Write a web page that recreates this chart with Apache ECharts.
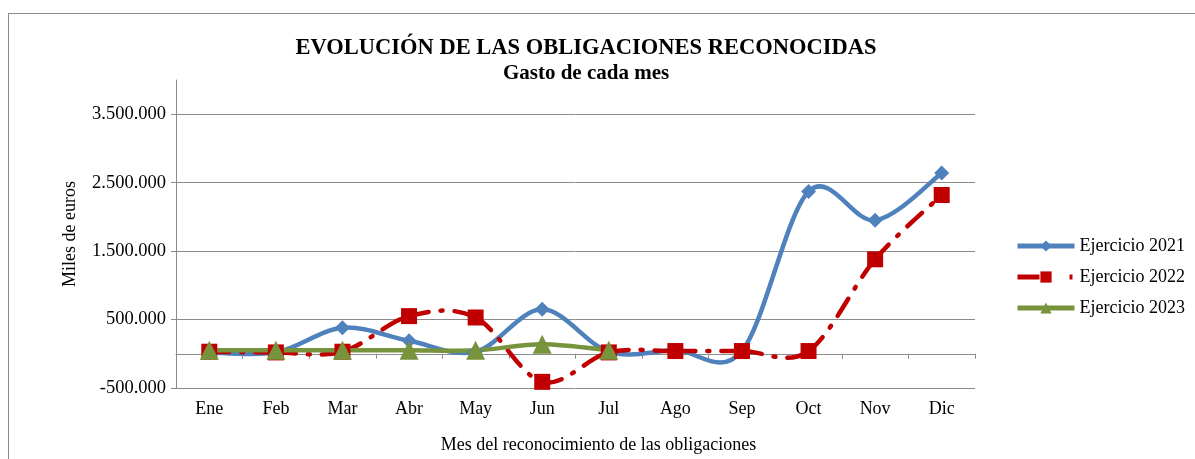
<!DOCTYPE html>
<html>
<head>
    <meta charset="utf-8">
    <script src="https://cdn.jsdelivr.net/npm/echarts@6/dist/echarts.min.js"></script>
    <style>
        body { margin: 0; background: #fff; }
        #frame { position: absolute; left: 8px; top: 13px; width: 1300px; height: 600px; border: 1px solid #8c8c8c; }
        #main { position: absolute; left: 0; top: 0; width: 1195px; height: 459px; }
    </style>
</head>
<body>
<div id="frame"></div>
<div id="main"></div>
<script type="text/javascript">
    // datos (miles de euros)
    var meses = ['Ene', 'Feb', 'Mar', 'Abr', 'May', 'Jun', 'Jul', 'Ago', 'Sep', 'Oct', 'Nov', 'Dic'];
    var ejercicio2021 = [20000, 20000, 380000, 190000, 30000, 650000, 30000, 50000, 40000, 2370000, 1950000, 2640000];
    var ejercicio2022 = [30000, 20000, 30000, 550000, 530000, -410000, 20000, 40000, 40000, 40000, 1380000, 2320000];
    var ejercicio2023 = [50000, 50000, 50000, 50000, 50000, 140000, 50000];
    var ticksY = [-500000, 500000, 1500000, 2500000, 3500000];

    var serif = 'Liberation Serif';
    var azul = '#4f81bd', rojo = '#c00000', verde = '#77933c';
    var guion = [20, 12, 2, 12];

    function miles(v) {
        var s = Math.abs(v).toString().replace(/\B(?=(\d{3})+(?!\d))/g, '.');
        return (v < 0 ? '-' : '') + s;
    }

    // curva suavizada tipo Excel (Catmull-Rom), dibujada una sola vez
    function curva(valores, color, tipo) {
        return function (params, api) {
            if (params.dataIndex !== 0) return null;
            var p = valores.map(function (v, i) { return api.coord([i, v]); });
            var tramos = [];
            for (var i = 0; i < p.length - 1; i++) {
                var a = p[i - 1] || p[i], b = p[i], c = p[i + 1], d = p[i + 2] || p[i + 1];
                tramos.push({
                    type: 'bezierCurve',
                    shape: {
                        x1: b[0], y1: b[1], x2: c[0], y2: c[1],
                        cpx1: b[0] + (c[0] - a[0]) / 6, cpy1: b[1] + (c[1] - a[1]) / 6,
                        cpx2: c[0] - (d[0] - b[0]) / 6, cpy2: c[1] - (d[1] - b[1]) / 6
                    },
                    style: { stroke: color, lineWidth: 4.5, fill: null, lineDash: tipo, lineCap: 'round' }
                });
            }
            return { type: 'group', children: tramos };
        };
    }

    function linea(nombre, valores, color, simbolo, tam, tipo) {
        return {
            name: nombre,
            type: 'line',
            z: 3,
            data: valores,
            symbol: simbolo,
            symbolSize: tam,
            itemStyle: { color: color },
            lineStyle: { color: color, width: 4.5, type: tipo || 'solid', opacity: 0 }
        };
    }

    function trazo(nombre, valores, color, tipo) {
        return {
            name: nombre,
            type: 'custom',
            z: 2,
            clip: false,
            data: valores,
            renderItem: curva(valores, color, tipo || null)
        };
    }

    var myChart = echarts.init(document.getElementById('main'));

    var option = {
        animation: false,
        textStyle: { fontFamily: serif, color: '#000' },
        title: {
            text: 'EVOLUCIÓN DE LAS OBLIGACIONES RECONOCIDAS',
            subtext: 'Gasto de cada mes',
            left: 581,
            top: 32,
            textAlign: 'center',
            itemGap: 3,
            textStyle: { fontFamily: serif, fontSize: 22.5, fontWeight: 'bold', color: '#000' },
            subtextStyle: { fontFamily: serif, fontSize: 21, fontWeight: 'bold', color: '#000' }
        },
        legend: {
            orient: 'vertical',
            left: 1010,
            top: 232,
            itemWidth: 57,
            itemHeight: 14,
            itemGap: 13,
            itemStyle: { opacity: 1 },
            textStyle: { fontFamily: serif, fontSize: 18, color: '#000' },
            data: [
                { name: 'Ejercicio 2021', lineStyle: { width: 5, opacity: 1 } },
                { name: 'Ejercicio 2022', lineStyle: { width: 5, opacity: 1, type: [22, 30, 3, 10] } },
                { name: 'Ejercicio 2023', lineStyle: { width: 5, opacity: 1 } }
            ]
        },
        grid: { left: 176, right: 220, top: 80, bottom: 67 },
        xAxis: [
            {
                type: 'category',
                data: meses,
                position: 'bottom',
                axisLine: { show: false, onZero: false },
                axisTick: { show: false },
                axisLabel: { fontFamily: serif, fontSize: 18, color: '#000', margin: 12 },
                name: 'Mes del reconocimiento de las obligaciones',
                nameLocation: 'middle',
                nameGap: 48,
                nameTextStyle: { fontFamily: serif, fontSize: 18, color: '#000', padding: [0, 0, 0, 46] }
            },
            {
                type: 'category',
                data: meses,
                position: 'bottom',
                axisLine: { show: true, onZero: true, lineStyle: { color: '#8c8c8c', width: 1 } },
                axisTick: { show: true, length: 5, lineStyle: { color: '#8c8c8c' } },
                axisLabel: { show: false }
            }
        ],
        yAxis: {
            type: 'value',
            min: -500000,
            max: 4000000,
            interval: 1000000,
            name: 'Miles de euros',
            nameLocation: 'middle',
            nameGap: 97,
            nameTextStyle: { fontFamily: serif, fontSize: 18, color: '#000' },
            axisLine: { show: true, lineStyle: { color: '#8c8c8c' } },
            axisTick: { show: true, length: 5, customValues: ticksY, lineStyle: { color: '#8c8c8c' } },
            splitLine: { lineStyle: { color: '#8c8c8c', width: 1 } },
            axisLabel: {
                fontFamily: serif, fontSize: 18.5, color: '#000', margin: 10,
                customValues: ticksY,
                formatter: function (v) { return miles(v); }
            }
        },
        series: [
            linea('Ejercicio 2021', ejercicio2021, azul, 'diamond', 15),
            linea('Ejercicio 2022', ejercicio2022, rojo, 'rect', 16, guion),
            linea('Ejercicio 2023', ejercicio2023, verde, 'triangle', 19),
            trazo('curva 2021', ejercicio2021, azul),
            trazo('curva 2022', ejercicio2022, rojo, guion),
            trazo('curva 2023', ejercicio2023, verde)
        ]
    };

    myChart.setOption(option);
</script>
</body>
</html>
